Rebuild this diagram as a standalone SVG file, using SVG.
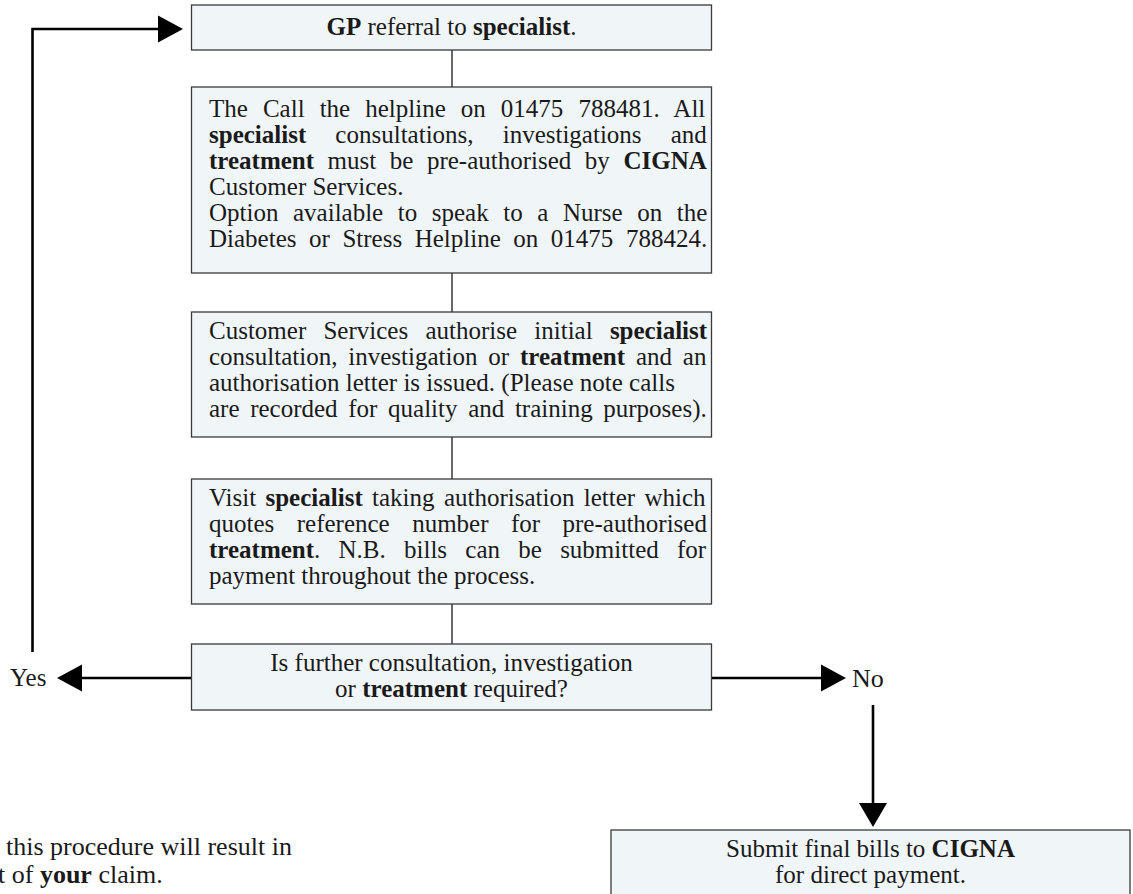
<svg xmlns="http://www.w3.org/2000/svg" width="1133" height="894" viewBox="0 0 1133 894">
<style>
.box{fill:#f0f5f8;stroke:#3a3a3a;stroke-width:1.3}
.t{font-family:"Liberation Serif","Times New Roman",serif;font-size:25px;fill:#1a1a1a}
.f{font-size:26px}
.c{text-anchor:middle}
.b{font-weight:bold}
.thin{stroke:#1a1a1a;stroke-width:1.3;fill:none}
.thick{stroke:#000;stroke-width:2.6;fill:none}
.ah{fill:#000}
</style>
<rect width="1133" height="894" fill="#fff"/>
<g id="connectors">
<line class="thin" x1="452" y1="50" x2="452" y2="87"/>
<line class="thin" x1="452" y1="273" x2="452" y2="312"/>
<line class="thin" x1="452" y1="437" x2="452" y2="479"/>
<line class="thin" x1="452" y1="604" x2="452" y2="644"/>
<polyline class="thick" points="191.5,678 80,678"/>
<polygon class="ah" points="57,678 82,664.5 82,691.5"/>
<polyline class="thick" points="32.5,652 32.5,29 160,29"/>
<polygon class="ah" points="183,29 158,15.5 158,42.5"/>
<polyline class="thick" points="711.5,678 824,678"/>
<polygon class="ah" points="846,678 821,664.5 821,691.5"/>
<polyline class="thick" points="873,705 873,805"/>
<polygon class="ah" points="873,827 859,803 887,803"/>
</g>
<g id="n1">
<rect class="box" x="191.5" y="5" width="520" height="45"/>
<text class="t c" x="451.5" y="35"><tspan class="b">GP</tspan> referral to <tspan class="b">specialist</tspan>.</text>
</g>
<g id="n2">
<rect class="box" x="191.5" y="87" width="520" height="186"/>
<text class="t" x="209" y="117" word-spacing="8.8">The Call the helpline on 01475 788481. All</text>
<text class="t" x="209" y="143" word-spacing="22.9"><tspan class="b">specialist</tspan> consultations, investigations and</text>
<text class="t" x="209" y="169" word-spacing="7.3"><tspan class="b">treatment</tspan> must be pre-authorised by <tspan class="b">CIGNA</tspan></text>
<text class="t" x="209" y="195">Customer Services.</text>
<text class="t" x="209" y="221" word-spacing="8.3">Option available to speak to a Nurse on the</text>
<text class="t" x="209" y="247" word-spacing="6.3">Diabetes or Stress Helpline on 01475 788424.</text>
</g>
<g id="n3">
<rect class="box" x="191.5" y="312" width="520" height="125"/>
<text class="t" x="209" y="339" word-spacing="11">Customer Services authorise initial <tspan class="b">specialist</tspan></text>
<text class="t" x="209" y="365" word-spacing="4.6">consultation, investigation or <tspan class="b">treatment</tspan> and an</text>
<text class="t" x="209" y="391">authorisation letter is issued. (Please note calls</text>
<text class="t" x="209" y="417" word-spacing="4.4">are recorded for quality and training purposes).</text>
</g>
<g id="n4">
<rect class="box" x="191.5" y="479" width="520" height="125"/>
<text class="t" x="209" y="506" word-spacing="3.1">Visit <tspan class="b">specialist</tspan> taking authorisation letter which</text>
<text class="t" x="209" y="532" word-spacing="16.2">quotes reference number for pre-authorised</text>
<text class="t" x="209" y="558" word-spacing="12"><tspan class="b">treatment</tspan>. N.B. bills can be submitted for</text>
<text class="t" x="209" y="584">payment throughout the process.</text>
</g>
<g id="n5">
<rect class="box" x="191.5" y="644" width="520" height="66"/>
<text class="t c" x="451.5" y="671">Is further consultation, investigation</text>
<text class="t c" x="451.5" y="697">or <tspan class="b">treatment</tspan> required?</text>
</g>
<g id="yes">
<text class="t" x="10" y="686">Yes</text>
</g>
<g id="no">
<text class="t f" x="852" y="687">No</text>
</g>
<g id="n6">
<rect class="box" x="611" y="830" width="519" height="80"/>
<text class="t c" x="870.5" y="857">Submit final bills to <tspan class="b">CIGNA</tspan></text>
<text class="t c" x="870.5" y="883">for direct payment.</text>
</g>
<g id="footer">
<text class="t f" x="6" y="855">this procedure will result in</text>
<text class="t f" x="-2" y="883">t of <tspan class="b">your</tspan> claim.</text>
</g>
</svg>
